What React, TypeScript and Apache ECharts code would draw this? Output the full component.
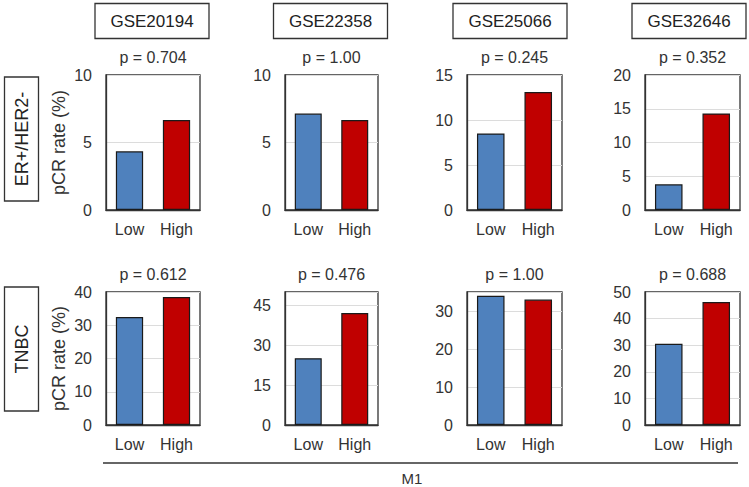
import React, { useEffect, useRef } from "react";
import * as echarts from "echarts";

const datasets = ["GSE20194", "GSE22358", "GSE25066", "GSE32646"];
const subtypes = ["ER+/HER2-", "TNBC"];
const categories = ["Low", "High"];
// pCR rate (%) per panel, row-major: row 0 = ER+/HER2-, row 1 = TNBC
const lowValues = [4.35, 7.14, 8.5, 3.8, 32.5, 25.1, 34.0, 30.5];
const highValues = [6.67, 6.67, 13.1, 14.3, 38.5, 42.1, 33.0, 46.2];
const pValues = ["p = 0.704", "p = 1.00", "p = 0.245", "p = 0.352", "p = 0.612", "p = 0.476", "p = 1.00", "p = 0.688"];
const yMax = [10, 10, 15, 20, 40, 50, 35, 50];
const yInterval = [5, 5, 5, 5, 10, 15, 10, 10];
const showMax = [true, true, true, true, true, false, false, true];
const yAxisTitle = "pCR rate (%)";
const xAxisTitle = "M1";

const FONT = "Liberation Sans, Arial, sans-serif";
const colLeft = [106, 285, 467, 645];
const colWidth = [94, 93, 95, 95];
const rowTop = [75, 292];
const rowHeight = [135, 133];

export default function App() {
  const ref = useRef<HTMLDivElement>(null);
  useEffect(() => {
    if (!ref.current) return;
    const chart = echarts.init(ref.current, undefined, { renderer: "svg" });
    const grids: any[] = [];
    const xAxes: any[] = [];
    const yAxes: any[] = [];
    const series: any[] = [];
    const graphics: any[] = [];
    for (let r = 0; r < 2; r++) {
      for (let c = 0; c < 4; c++) {
        const i = r * 4 + c;
        grids.push({
          left: colLeft[c],
          top: rowTop[r],
          width: colWidth[c],
          height: rowHeight[r],
          show: true,
          borderColor: "#333",
          borderWidth: 1.3,
          backgroundColor: "transparent",
        });
        xAxes.push({
          type: "category",
          gridIndex: i,
          data: categories,
          axisLine: { show: true, lineStyle: { color: "#333", width: 1.3 } },
          axisTick: { show: false },
          axisLabel: { color: "#333", fontSize: 16, fontFamily: FONT, margin: 11 },
        });
        yAxes.push({
          type: "value",
          gridIndex: i,
          min: 0,
          max: yMax[i],
          interval: yInterval[i],
          axisLine: { show: true, lineStyle: { color: "#333", width: 1.3 } },
          axisTick: { show: false },
          axisLabel: { color: "#333", fontSize: 16, fontFamily: FONT, margin: 14, showMaxLabel: showMax[i] },
          splitLine: { show: true, lineStyle: { color: "#dcdcdc", width: 1 } },
          name: c === 0 ? yAxisTitle : "",
          nameLocation: "middle",
          nameRotate: 90,
          nameGap: 38,
          nameTextStyle: { color: "#333", fontSize: 18, fontFamily: FONT },
        });
        series.push({
          type: "bar",
          xAxisIndex: i,
          yAxisIndex: i,
          barWidth: "58%",
          z: 3,
          data: [
            { value: lowValues[i], itemStyle: { color: "#4f81bd", borderColor: "#1a1a1a", borderWidth: 1.2 } },
            { value: highValues[i], itemStyle: { color: "#c00000", borderColor: "#1a1a1a", borderWidth: 1.2 } },
          ],
        });
        graphics.push({
          type: "text",
          x: colLeft[c] + colWidth[c] / 2,
          y: rowTop[r] - 18,
          style: {
            text: pValues[i],
            textAlign: "center",
            textVerticalAlign: "middle",
            fontSize: 16,
            fontFamily: FONT,
            fill: "#333",
          },
        });
      }
    }
    // dataset header boxes
    const headerCenters = [152, 330.5, 510, 689];
    datasets.forEach((d, c) => {
      graphics.push({
        type: "rect",
        shape: { x: headerCenters[c] - 57, y: 3.5, width: 114, height: 35 },
        style: { fill: "#fff", stroke: "#333", lineWidth: 1.3 },
      });
      graphics.push({
        type: "text",
        x: headerCenters[c],
        y: 21,
        style: { text: d, textAlign: "center", textVerticalAlign: "middle", fontSize: 17, fontFamily: FONT, fill: "#222" },
      });
    });
    // subtype row label boxes
    const rowBoxTop = [77, 287];
    subtypes.forEach((s, r) => {
      graphics.push({
        type: "rect",
        shape: { x: 4.5, y: rowBoxTop[r], width: 34, height: 124 },
        style: { fill: "#fff", stroke: "#333", lineWidth: 1.3 },
      });
      graphics.push({
        type: "text",
        x: 21.5,
        y: rowBoxTop[r] + 62,
        rotation: Math.PI / 2,
        style: { text: s, textAlign: "center", textVerticalAlign: "middle", fontSize: 18, fontFamily: FONT, fill: "#222" },
      });
    });
    graphics.push({
      type: "line",
      shape: { x1: 103, y1: 463, x2: 738, y2: 463 },
      style: { stroke: "#333", lineWidth: 1.3 },
    });
    graphics.push({
      type: "text",
      x: 412,
      y: 478,
      style: { text: xAxisTitle, textAlign: "center", textVerticalAlign: "middle", fontSize: 15, fontFamily: FONT, fill: "#333" },
    });

    chart.setOption({
      animation: false,
      backgroundColor: "#fff",
      grid: grids,
      xAxis: xAxes,
      yAxis: yAxes,
      series,
      graphic: graphics,
    });
    return () => chart.dispose();
  }, []);
  return <div ref={ref} style={{ position: "fixed", left: 0, top: 0, width: 749, height: 487 }} />;
}
